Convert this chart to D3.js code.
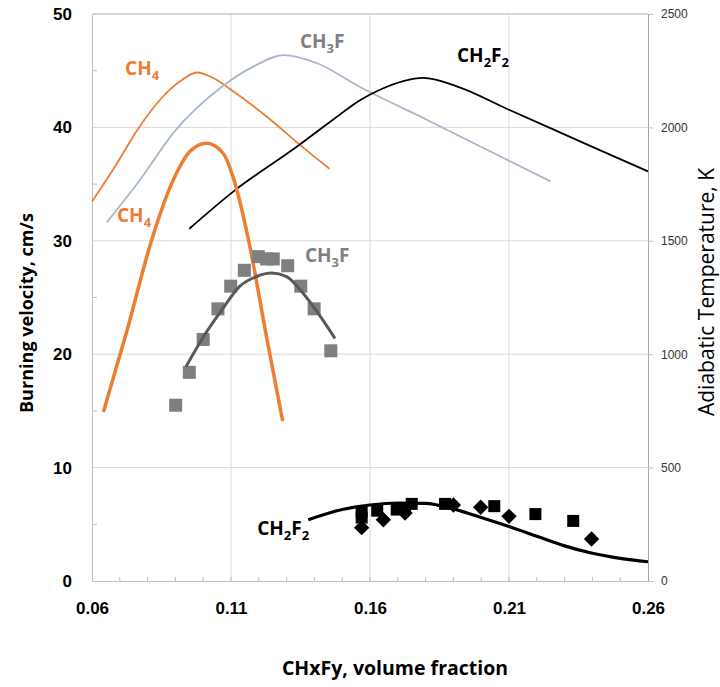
<!DOCTYPE html>
<html>
<head>
<meta charset="utf-8">
<script src="https://cdn.jsdelivr.net/npm/d3@7"></script>
<style>
  body { margin: 0; background: #fff; }
  svg { display: block; font-family: "Open Sans", Lato, sans-serif; }
  .tick-left text, .tick-bottom text { font-weight: bold; font-size: 17px; fill: #000; }
  .tick-right text { font-size: 12px; fill: #333; }
  .curve-label { font-weight: bold; font-size: 19px; }
</style>
</head>
<body>
<svg width="720" height="687"></svg>
<script>
// adiabatic temperature (right axis, K) vs volume fraction
const tempCH4 = [
  [0.060, 1673], [0.0683, 1828], [0.0769, 2000], [0.0845, 2122], [0.0917, 2203],
  [0.0977, 2242], [0.1036, 2218], [0.1108, 2159], [0.1228, 2048], [0.1348, 1923], [0.1454, 1818]
];
const tempCH3F = [
  [0.0653, 1581], [0.0773, 1769], [0.0892, 1975], [0.1066, 2178], [0.118, 2268],
  [0.129, 2319], [0.1408, 2284], [0.1564, 2178], [0.1804, 2034], [0.210, 1853], [0.225, 1762]
];
const tempCH2F2 = [
  [0.095, 1553], [0.1108, 1717], [0.133, 1909], [0.1468, 2035], [0.1564, 2120],
  [0.1636, 2166], [0.1792, 2218], [0.1912, 2181], [0.210, 2078], [0.2259, 1991],
  [0.240, 1914], [0.260, 1806]
];

// burning velocity (left axis, cm/s)
const bvCH4 = [
  [0.0641, 14.9], [0.0725, 22.0], [0.0815, 30.1], [0.0893, 35.4], [0.0953, 37.9],
  [0.1013, 38.6], [0.1072, 37.7], [0.1114, 35.1], [0.1162, 30.2], [0.1228, 21.5], [0.1286, 14.1]
];
const fitCH3F = [
  [0.0938, 18.9], [0.0995, 21.3], [0.1067, 23.9], [0.1132, 26.0], [0.1192, 26.85],
  [0.1246, 27.15], [0.130, 26.85], [0.1348, 25.7], [0.1408, 23.8], [0.1474, 21.4]
];
const dataCH3F = [
  [0.0901, 15.5], [0.095, 18.4], [0.100, 21.3], [0.1053, 24.0], [0.1099, 26.0],
  [0.1148, 27.4], [0.1198, 28.6], [0.1228, 28.4], [0.1252, 28.4], [0.1304, 27.8],
  [0.1351, 26.0], [0.1399, 24.0], [0.1459, 20.3]
];
const fitCH2F2 = [
  [0.1378, 5.4], [0.150, 6.3], [0.160, 6.7], [0.170, 6.88], [0.180, 6.85], [0.190, 6.35],
  [0.200, 5.6], [0.210, 4.8], [0.220, 3.95], [0.230, 3.1], [0.240, 2.45], [0.250, 2.0], [0.260, 1.7]
];
const squaresCH2F2 = [
  [0.157, 6.1], [0.157, 5.6], [0.1626, 6.2], [0.1696, 6.3], [0.1726, 6.4], [0.175, 6.8],
  [0.187, 6.8], [0.2047, 6.6], [0.2195, 5.9], [0.2331, 5.3]
];
const diamondsCH2F2 = [
  [0.157, 4.7], [0.1648, 5.4], [0.1726, 6.0], [0.190, 6.7], [0.1998, 6.5], [0.210, 5.7], [0.2397, 3.7]
];

const xTicks = [0.06, 0.11, 0.16, 0.21, 0.26];
const xMinor = d3.range(0.07, 0.26, 0.01);
const leftTicks = [0, 10, 20, 30, 40, 50];
const leftMinor = [5, 15, 25, 35, 45];
const rightTicks = [0, 500, 1000, 1500, 2000, 2500];

// curve labels, anchored in data units (x, velocity)
const labels = [
  { parts: [["CH", ""], ["4", "sub"]], x: 0.0719, v: 44.2, color: "#ED7D31" },
  { parts: [["CH", ""], ["3", "sub"], ["F", ""]], x: 0.1348, v: 46.6, color: "#7F7F7F" },
  { parts: [["CH", ""], ["2", "sub"], ["F", ""], ["2", "sub"]], x: 0.1913, v: 45.3, color: "#000" },
  { parts: [["CH", ""], ["4", "sub"]], x: 0.069, v: 31.2, color: "#ED7D31" },
  { parts: [["CH", ""], ["3", "sub"], ["F", ""]], x: 0.1366, v: 27.7, color: "#7F7F7F" },
  { parts: [["CH", ""], ["2", "sub"], ["F", ""], ["2", "sub"]], x: 0.1194, v: 3.6, color: "#000" }
];

const svg = d3.select("svg");
const margin = { top: 14, right: 72, bottom: 106, left: 92 };
const width = +svg.attr("width");
const height = +svg.attr("height");
const innerWidth = width - margin.left - margin.right;
const innerHeight = height - margin.top - margin.bottom;

const g = svg.append("g").attr("transform", `translate(${margin.left},${margin.top})`);

const x = d3.scaleLinear().domain([0.06, 0.26]).range([0, innerWidth]);
const yL = d3.scaleLinear().domain([0, 50]).range([innerHeight, 0]);
const yR = d3.scaleLinear().domain([0, 2500]).range([innerHeight, 0]);

// gridlines
g.selectAll(".hgrid").data(leftTicks.slice(1)).enter().append("line")
  .attr("x1", 0).attr("x2", innerWidth)
  .attr("y1", d => yL(d)).attr("y2", d => yL(d))
  .attr("stroke", "#d9d9d9").attr("stroke-width", 1);
g.selectAll(".vgrid").data(xTicks.slice(1, -1)).enter().append("line")
  .attr("x1", d => x(d)).attr("x2", d => x(d))
  .attr("y1", 0).attr("y2", innerHeight)
  .attr("stroke", "#d9d9d9").attr("stroke-width", 1);

// axes
const leftAxis = g.append("g").attr("class", "tick-left")
  .call(d3.axisLeft(yL).tickValues(leftTicks).tickSize(0).tickPadding(20).tickFormat(d3.format("d")));
leftAxis.select(".domain").attr("stroke", "#bfbfbf");
g.selectAll(".lminor").data(leftMinor).enter().append("line")
  .attr("x1", 0).attr("x2", 5).attr("y1", d => yL(d)).attr("y2", d => yL(d))
  .attr("stroke", "#bfbfbf");

const bottomAxis = g.append("g").attr("class", "tick-bottom")
  .attr("transform", `translate(0,${innerHeight})`)
  .call(d3.axisBottom(x).tickValues(xTicks).tickSize(0).tickPadding(21).tickFormat(d3.format(".2f")));
bottomAxis.select(".domain").attr("stroke", "#bfbfbf");
g.selectAll(".xminor").data(xMinor).enter().append("line")
  .attr("x1", d => x(d)).attr("x2", d => x(d))
  .attr("y1", innerHeight).attr("y2", innerHeight - 4)
  .attr("stroke", "#bfbfbf");

const rightAxis = g.append("g").attr("class", "tick-right")
  .attr("transform", `translate(${innerWidth},0)`)
  .call(d3.axisRight(yR).tickValues(rightTicks).tickSize(5).tickPadding(8)
    .tickSizeOuter(0).tickFormat(d3.format("d")));
rightAxis.select(".domain").attr("stroke", "#a6a6a6");
rightAxis.selectAll(".tick line").attr("stroke", "#bfbfbf");

// top border
g.append("line").attr("x1", 0).attr("x2", innerWidth).attr("y1", 0).attr("y2", 0)
  .attr("stroke", "#bfbfbf");

// lines
const lineT = d3.line().x(d => x(d[0])).y(d => yR(d[1])).curve(d3.curveMonotoneX);
const lineV = d3.line().x(d => x(d[0])).y(d => yL(d[1])).curve(d3.curveMonotoneX);

g.append("path").datum(tempCH4).attr("d", lineT)
  .attr("fill", "none").attr("stroke", "#ED7D31").attr("stroke-width", 1.8);
g.append("path").datum(tempCH3F).attr("d", lineT)
  .attr("fill", "none").attr("stroke", "#A9B7CC").attr("stroke-width", 1.8);
g.append("path").datum(tempCH2F2).attr("d", lineT)
  .attr("fill", "none").attr("stroke", "#000").attr("stroke-width", 1.8);

g.append("path").datum(bvCH4).attr("d", lineV)
  .attr("fill", "none").attr("stroke", "#ED7D31").attr("stroke-width", 3.5);

g.selectAll(".sq3").data(dataCH3F).enter().append("rect")
  .attr("x", d => x(d[0]) - 6.5).attr("y", d => yL(d[1]) - 6.5)
  .attr("width", 13).attr("height", 13).attr("fill", "#7F7F7F");
g.append("path").datum(fitCH3F).attr("d", lineV)
  .attr("fill", "none").attr("stroke", "#595959").attr("stroke-width", 3);

g.selectAll(".sq2").data(squaresCH2F2).enter().append("rect")
  .attr("x", d => x(d[0]) - 6).attr("y", d => yL(d[1]) - 6)
  .attr("width", 12).attr("height", 12).attr("fill", "#000");
g.selectAll(".dm2").data(diamondsCH2F2).enter().append("path")
  .attr("transform", d => `translate(${x(d[0])},${yL(d[1])})`)
  .attr("d", d3.symbol(d3.symbolDiamond2, 150)())
  .attr("fill", "#000");
g.append("path").datum(fitCH2F2).attr("d", lineV)
  .attr("fill", "none").attr("stroke", "#000").attr("stroke-width", 3.2);

// curve labels
labels.forEach(l => {
  const t = g.append("text").attr("class", "curve-label")
    .attr("x", x(l.x)).attr("y", yL(l.v)).attr("fill", l.color);
  l.parts.forEach(p => {
    if (p[1] === "sub") {
      t.append("tspan").attr("font-size", "13px").attr("dy", 5).text(p[0]);
    } else {
      t.append("tspan").attr("dy", t.selectAll("tspan").size() ? -5 : 0).text(p[0]);
    }
  });
});

// axis titles
svg.append("text")
  .attr("transform", "translate(33,313) rotate(-90)")
  .attr("text-anchor", "middle").attr("font-weight", "bold").attr("font-size", "17px")
  .attr("textLength", 200).attr("lengthAdjust", "spacingAndGlyphs")
  .text("Burning velocity, cm/s");
svg.append("text")
  .attr("transform", "translate(714,292) rotate(-90)")
  .attr("text-anchor", "middle").attr("font-size", "21px")
  .text("Adiabatic Temperature, K");
svg.append("text")
  .attr("x", 395).attr("y", 675)
  .attr("text-anchor", "middle").attr("font-weight", "bold").attr("font-size", "19.5px")
  .text("CHxFy, volume fraction");
</script>
</body>
</html>
